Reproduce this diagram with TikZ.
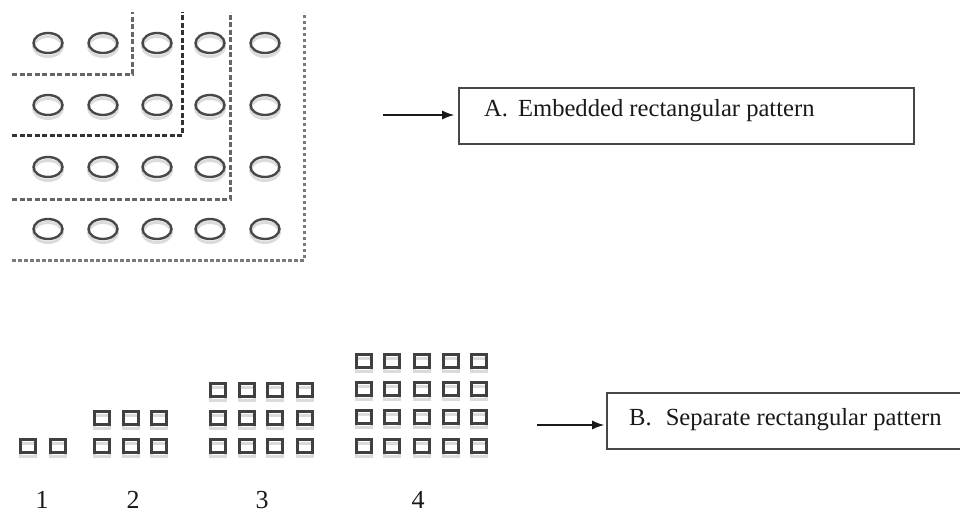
\documentclass[tikz,border=0pt]{standalone}
\usepackage{fontspec}
\setmainfont{Liberation Serif}
\usetikzlibrary{shapes.geometric,arrows.meta}
\tikzset{
  ring/.style={ellipse, draw=black!72, line width=2.4pt, minimum width=29pt, minimum height=20pt, inner sep=0pt},
  ringshadow/.style={draw=black!14, line width=3pt},
  cell/.style={rectangle, draw=black!75, line width=2.6pt, minimum width=15pt, minimum height=13pt, inner sep=0pt},
  cellshadow/.style={draw=black!14, line width=3pt},
  fence/.style={draw=black!60, line width=3pt, dash pattern=on 5pt off 2.5pt},
  pointer/.style={-{Latex[length=12pt,width=9pt]}, line width=1.2pt, draw=black!90, fill=black!90},
  labelbox/.style={draw=black!72, line width=1.6pt, inner sep=0pt},
  caption/.style={font=\fontsize{24.6}{28}\selectfont, inner sep=0pt, anchor=base west, text=black!90},
  count/.style={font=\fontsize{26}{28}\selectfont, inner sep=0pt, anchor=base, text=black!90},
}
\begin{document}
\begin{tikzpicture}[x=1pt,y=-1pt]
\useasboundingbox (0,0) rectangle (960,514);

% ---- embedded pattern: nested L-shaped fences ----
\draw[fence] (12,74) -- (132,74) -- (132,12);
\draw[fence, draw=black!80] (12,135) -- (182,135) -- (182,12);
\draw[fence] (12,199) -- (230,199) -- (230,12);
\draw[fence, dash pattern=on 3.5pt off 2.5pt, draw=black!52] (12,260) -- (304,260) -- (304,12);

% ---- embedded pattern: 4 x 5 rings ----
\foreach \r/\y in {1/43,2/105,3/167,4/229}{
  \foreach \c/\x in {1/48,2/103,3/157,4/210,5/265}{
    \draw[ringshadow] (\x,\y+3.5) ellipse (14.5 and 10);
    \node[ring] (e-\r-\c) at (\x,\y) {};
  }
}

% ---- separate pattern: four growing blocks of cells ----
\foreach \g/\cols/\rows in {
    1/{28,58}/{446},
    2/{102,131,159}/{418,446},
    3/{218,247,275,305}/{390,418,446},
    4/{364,392,422,451,479}/{361,389,417,446}}{
  \foreach \x [count=\c] in \cols{
    \foreach \y [count=\r] in \rows{
      \draw[cellshadow] (\x-7.5,\y-3) rectangle (\x+7.5,\y+10);
      \node[cell] (s-\g-\r-\c) at (\x,\y) {};
    }
  }
}

% ---- block numbers ----
\node[count] (n1) at (42,508) {1};
\node[count] (n2) at (133,508) {2};
\node[count] (n3) at (262,508) {3};
\node[count] (n4) at (418,508) {4};

% ---- label boxes ----
\node[labelbox, minimum width=455pt, minimum height=56pt] (boxA) at (686.5,116) {};
\node[caption] (textA) at (484,116) {A.\hspace{10pt}Embedded rectangular pattern};
\node[labelbox, minimum width=372pt, minimum height=56pt] (boxB) at (793,421) {};
\node[caption] (textB) at (629,425) {B.\hspace{14pt}Separate rectangular pattern};

% ---- pointers ----
\coordinate (a-tail) at (383,115);
\coordinate (b-tail) at (537,425);
\draw[pointer, shorten >=4pt] (a-tail) -- (a-tail -| boxA.west);
\draw[pointer, shorten >=2pt] (b-tail) -- (b-tail -| boxB.west);
\end{tikzpicture}
\end{document}
